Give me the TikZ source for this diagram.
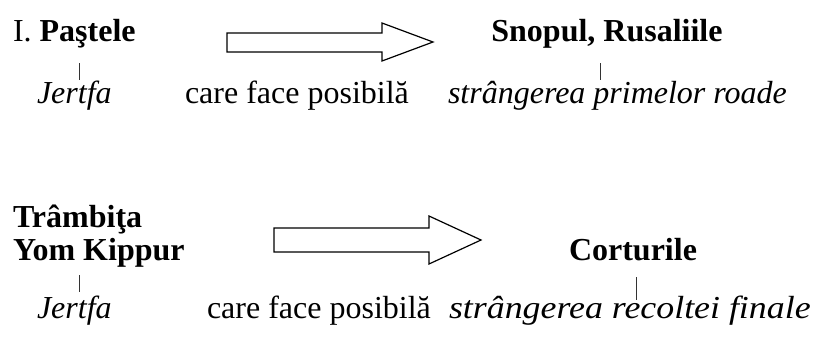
\documentclass[tikz,border=0pt]{standalone}
\usepackage{fontspec}
\setmainfont{Liberation Serif}
\begin{document}
\begin{tikzpicture}[x=1pt,y=-1pt,
  txt/.style={inner sep=0pt,outer sep=0pt,font=\fontsize{32}{38}\selectfont},
  bar/.style={line width=1pt,black!80},
  fatarrow/.style={line width=1.2pt,fill=white,line join=miter}]
\useasboundingbox (0,0) rectangle (814,338);
% row 1
\node[txt,anchor=base west] (pas) at (13,41) {I. \textbf{Paştele}};
\node[txt,anchor=base] (sno) at (607,41) {\textbf{Snopul, Rusaliile}};
\node[txt,anchor=base west] (jer1) at (37,103) {\textit{Jertfa}};
\node[txt,anchor=base west] (car1) at (185,103) {care face posibilă};
\node[txt,anchor=base west] (str1) at (448,103) {\textit{strângerea primelor roade}};
\coordinate (b1t) at (79,63); \coordinate (b1b) at (79,80);
\coordinate (b2t) at (600,63); \coordinate (b2b) at (600,80);
\draw[bar] (b1t) -- (b1b);
\draw[bar] (b2t) -- (b2b);
\draw[fatarrow] (227,33) -- (382,33) -- (382,23) -- (433,42) -- (382,61) -- (382,52) -- (227,52) -- cycle;
% row 2
\node[txt,anchor=base west] (tra) at (13,227) {\textbf{Trâmbiţa}};
\node[txt,anchor=base west] (yom) at (13,260) {\textbf{Yom Kippur}};
\node[txt,anchor=base] (cor) at (633,260) {\textbf{Corturile}};
\node[txt,anchor=base west] (jer2) at (37,318) {\textit{Jertfa}};
\node[txt,anchor=base west] (car2) at (207,318) {care face posibilă};
\node[txt,anchor=base west] (str2) at (449,318) {\scalebox{1.12}[1]{\textit{strângerea recoltei finale}}};
\coordinate (b3t) at (79,275); \coordinate (b3b) at (79,292);
\coordinate (b4t) at (636,277); \coordinate (b4b) at (636,300);
\draw[bar] (b3t) -- (b3b);
\draw[bar] (b4t) -- (b4b);
\draw[fatarrow] (274,228) -- (429,228) -- (429,216) -- (481,240) -- (429,264) -- (429,252) -- (274,252) -- cycle;
\end{tikzpicture}
\end{document}
